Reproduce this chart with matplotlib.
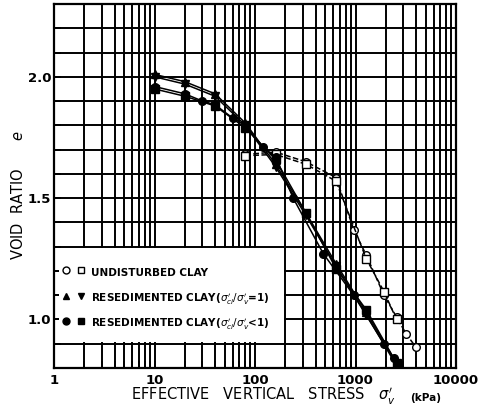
import numpy as np
import matplotlib.pyplot as plt
from matplotlib.legend_handler import HandlerTuple
from matplotlib.lines import Line2D
from matplotlib.patches import Rectangle

# undisturbed clay (open markers, dashed)
und_c_s = [80, 160, 320, 640, 960, 1280, 1920, 2560, 3200, 4000]
und_c_e = [1.68, 1.69, 1.65, 1.585, 1.37, 1.265, 1.10, 1.01, 0.94, 0.885]
und_q_s = [80, 160, 320, 640, 1280, 1920, 2560]
und_q_e = [1.675, 1.68, 1.64, 1.57, 1.25, 1.115, 1.00]

# resedimented clay, sci'/sv' = 1 (triangles)
rs1_up_s = [10, 20, 40, 80, 160, 320, 640, 1280, 2560]
rs1_up_e = [2.01, 1.98, 1.93, 1.81, 1.64, 1.44, 1.23, 1.03, 0.82]
rs1_dn_s = [10, 20, 40, 80, 160, 320, 640, 1280, 2560]
rs1_dn_e = [2.00, 1.97, 1.92, 1.80, 1.63, 1.43, 1.22, 1.02, 0.81]

# resedimented clay, sci'/sv' < 1 (filled circles / squares)
rs2_c_s = [10, 20, 30, 40, 60, 80, 120, 160, 240, 480, 960, 1920, 2400]
rs2_c_e = [1.96, 1.93, 1.90, 1.885, 1.83, 1.80, 1.71, 1.67, 1.50, 1.27, 1.10, 0.90, 0.84]
rs2_q_s = [10, 20, 40, 80, 160, 320, 640, 1280, 2560]
rs2_q_e = [1.95, 1.92, 1.88, 1.79, 1.66, 1.44, 1.21, 1.04, 0.82]

xticks = [1, 10, 100, 1000, 10000]
yticks = [1.0, 1.5, 2.0]

fig = plt.figure(figsize=(4.86, 4.07), dpi=100)
ax = fig.add_axes([54/486, 1-368/407, 402/486, 364/407])
ax.set_xscale('log')
ax.set_xlim(1, 10000)
ax.set_ylim(0.8, 2.3)

# grid
ax.set_axisbelow(True)
ax.set_xticks([m*10**d for d in range(4) for m in range(1, 10)] + [10000], minor=False)
ax.set_yticks(np.round(np.arange(0.8, 2.31, 0.1), 2))
ax.grid(True, color='black', lw=1.4)
ax.tick_params(axis='both', direction='in', length=5, width=1.4, labelsize=9.5)
ax.xaxis.set_major_formatter(plt.FuncFormatter(lambda v, p: str(int(v)) if v in xticks else ''))
ax.yaxis.set_major_formatter(plt.FuncFormatter(lambda v, p: '%.1f' % v if round(v, 2) in yticks else ''))
for lab in ax.get_xticklabels() + ax.get_yticklabels():
    lab.set_fontweight('bold')
ax.tick_params(axis='x', pad=4)
ax.tick_params(axis='y', pad=2)
for sp in ax.spines.values():
    sp.set_linewidth(1.6)

# white panel that holds the legend
ax.add_patch(Rectangle((1.12, 0.906), 196 - 1.12, 1.294 - 0.906, facecolor='white',
                       edgecolor='none', zorder=1))

kw = dict(color='black', lw=1.1, ms=5.5, zorder=3)
ax.plot(und_c_s, und_c_e, ls='--', marker='o', mfc='white', **kw)
ax.plot(und_q_s, und_q_e, ls='--', marker='s', mfc='white', **kw)
ax.plot(rs1_up_s, rs1_up_e, ls='-', marker='^', **kw)
ax.plot(rs1_dn_s, rs1_dn_e, ls='-', marker='v', **kw)
ax.plot(rs2_c_s, rs2_c_e, ls='-', marker='o', **kw)
ax.plot(rs2_q_s, rs2_q_e, ls='-', marker='s', **kw)

def mk(m, fill):
    return Line2D([], [], ls='none', marker=m, color='black', mfc=fill, ms=5)

handles = [(mk('o', 'white'), mk('s', 'white')),
           (mk('^', 'black'), mk('v', 'black')),
           (mk('o', 'black'), mk('s', 'black'))]
labels = ['UNDISTURBED CLAY',
          r"RESEDIMENTED CLAY($\sigma_{ci}'/\sigma_v'$=1)",
          r"RESEDIMENTED CLAY($\sigma_{ci}'/\sigma_v'$<1)"]
leg = ax.legend(handles, labels, handler_map={tuple: HandlerTuple(ndivide=None, pad=0.6)},
                loc='upper left', bbox_to_anchor=(0.02, 0.286), frameon=False,
                fontsize=7.5, handlelength=2.2, handleheight=2.2, handletextpad=0.55,
                labelspacing=0.8, borderpad=0, borderaxespad=0)
for t in leg.get_texts():
    t.set_fontweight('bold')
leg.set_zorder(4)

ax.text(-0.09, 0.475, 'VOID  RATIO      $e$', transform=ax.transAxes, rotation=90,
        ha='center', va='center', fontsize=10.5)
ax.text(0.52, -0.078, r"EFFECTIVE   VERTICAL   STRESS   $\sigma_v'$", transform=ax.transAxes,
        ha='center', va='center', fontsize=10.5)
ax.text(0.925, -0.082, '(kPa)', transform=ax.transAxes, ha='center', va='center',
        fontsize=7.5, fontweight='bold')

fig.savefig('out.png', dpi=100)
